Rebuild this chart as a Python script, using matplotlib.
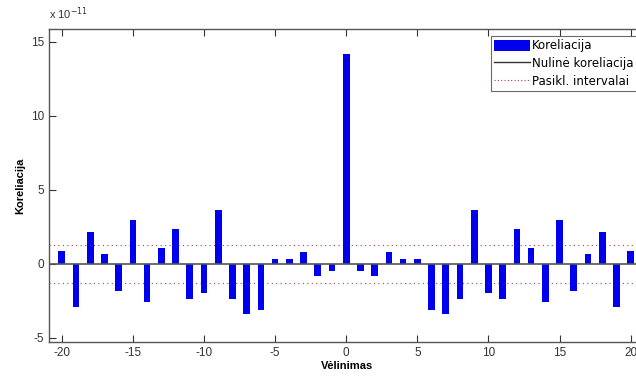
import matplotlib
matplotlib.use("Agg")
import matplotlib.pyplot as plt
from matplotlib.patches import Patch
from matplotlib.lines import Line2D

# Cross-correlation values, in units of 1e-11
lags = list(range(-20, 21))
corr = [0.88, -2.88, 2.16, 0.68, -1.82, 2.95, -2.57, 1.06, 2.36, -2.36,
        -1.98, 3.67, -2.36, -3.40, -3.09, 0.36, 0.36, 0.81, -0.81, -0.47,
        14.2,
        -0.47, -0.81, 0.81, 0.36, 0.36, -3.09, -3.40, -2.36, 3.67, -1.98,
        -2.36, 2.36, 1.06, -2.57, 2.95, -1.82, 0.68, 2.16, -2.88, 0.88]
conf_bound = 1.31
xticks = [-20, -15, -10, -5, 0, 5, 10, 15, 20]
yticks = [-5, 0, 5, 10, 15]
legend_labels = ["Koreliacija", "Nulinė koreliacija", "Pasikl. intervalai"]

plt.rcParams["font.family"] = ["Liberation Sans", "DejaVu Sans"]
plt.rcParams["axes.unicode_minus"] = False

fig = plt.figure(figsize=(6.36, 3.77), dpi=100)
ax = fig.add_axes([0.077, 0.092, 0.937, 0.832])

ax.bar(lags, corr, width=0.47, color="#0000ee", zorder=2)
ax.axhline(0, color="#555555", lw=1.2, zorder=3)
ax.axhline(conf_bound, color="#b04040", lw=0.8, ls=(0, (1, 3)), zorder=1)
ax.axhline(-conf_bound, color="#b04040", lw=0.8, ls=(0, (1, 3)), zorder=1)

ax.set_xlim(-20.9, 21)
ax.set_ylim(-5.3, 15.9)
ax.set_xticks(xticks)
ax.set_yticks(yticks)
ax.tick_params(direction="in", top=True, right=False, length=5,
               labelsize=8.5, colors="#333333", width=0.8)
for s in ax.spines.values():
    s.set_color("#555555")
    s.set_linewidth(1.0)

ax.text(0.0, 1.02, "x 10$^{-11}$", transform=ax.transAxes,
        fontsize=8, color="#333333", ha="left", va="bottom")

ax.set_xlabel("Vėlinimas", fontsize=8, fontweight="bold", labelpad=1)
ax.set_ylabel("Koreliacija", fontsize=8, fontweight="bold", labelpad=4)

handles = [Patch(facecolor="#0000ee", edgecolor="none"),
           Line2D([], [], color="#333333", lw=1.0),
           Line2D([], [], color="#b04040", lw=0.8, ls=(0, (1, 2)))]
leg = ax.legend(handles, legend_labels, loc="upper left",
                bbox_to_anchor=(0.741, 0.977),
                prop={"family": "DejaVu Sans", "size": 8.5},
                frameon=True, fancybox=False, borderpad=0.3,
                handlelength=3.0, handleheight=1.15, handletextpad=0.2,
                labelspacing=0.4, borderaxespad=0)
leg.get_frame().set_edgecolor("#444444")
leg.get_frame().set_linewidth(0.8)

fig.savefig("out.png", dpi=100)
